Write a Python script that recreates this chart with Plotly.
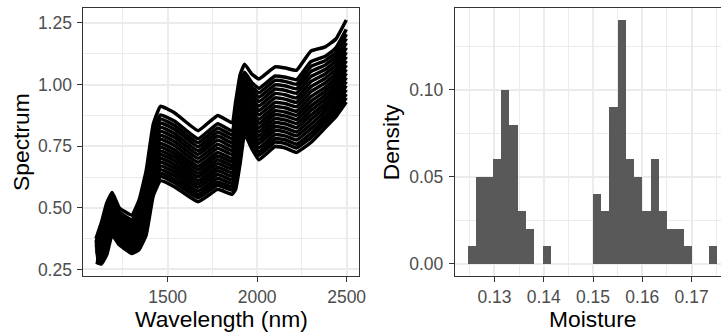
import plotly.graph_objects as go

# ---------------- data ----------------
wavelength = [1100, 1130, 1160, 1190, 1230, 1300, 1340, 1380, 1420, 1460, 1540, 1670, 1780,
              1860, 1880, 1905, 1930, 1970, 2010, 2100, 2160, 2220, 2300, 2380, 2440, 2498]

spectra = [
    [0.375, 0.440, 0.520, 0.562, 0.500, 0.470, 0.530, 0.650, 0.840, 0.912, 0.885, 0.813, 0.875, 0.845, 0.930, 1.040, 1.083, 1.043, 1.023, 1.072, 1.067, 1.058, 1.136, 1.153, 1.185, 1.262],
    [0.364, 0.421, 0.496, 0.542, 0.483, 0.452, 0.507, 0.620, 0.807, 0.877, 0.851, 0.780, 0.841, 0.812, 0.889, 0.999, 1.050, 1.008, 0.985, 1.035, 1.030, 1.020, 1.093, 1.115, 1.149, 1.224],
    [0.359, 0.411, 0.484, 0.533, 0.475, 0.444, 0.496, 0.606, 0.791, 0.861, 0.834, 0.764, 0.824, 0.796, 0.870, 0.979, 1.035, 0.991, 0.967, 1.017, 1.012, 1.001, 1.073, 1.097, 1.131, 1.205],
    [0.354, 0.402, 0.473, 0.523, 0.466, 0.435, 0.485, 0.592, 0.775, 0.844, 0.818, 0.748, 0.808, 0.780, 0.850, 0.959, 1.019, 0.975, 0.949, 0.999, 0.994, 0.983, 1.053, 1.079, 1.114, 1.187],
    [0.348, 0.393, 0.461, 0.514, 0.458, 0.427, 0.474, 0.577, 0.759, 0.827, 0.801, 0.732, 0.791, 0.764, 0.831, 0.939, 1.004, 0.958, 0.931, 0.982, 0.976, 0.965, 1.032, 1.061, 1.097, 1.169],
    [0.343, 0.384, 0.450, 0.504, 0.450, 0.418, 0.463, 0.563, 0.743, 0.811, 0.785, 0.717, 0.775, 0.748, 0.811, 0.919, 0.988, 0.941, 0.913, 0.964, 0.958, 0.946, 1.012, 1.043, 1.079, 1.150],
    [0.338, 0.374, 0.438, 0.495, 0.442, 0.410, 0.452, 0.549, 0.727, 0.794, 0.768, 0.701, 0.758, 0.732, 0.792, 0.900, 0.973, 0.925, 0.895, 0.946, 0.940, 0.928, 0.991, 1.025, 1.062, 1.132],
    [0.333, 0.365, 0.427, 0.485, 0.433, 0.401, 0.441, 0.534, 0.711, 0.778, 0.752, 0.685, 0.742, 0.716, 0.772, 0.880, 0.957, 0.908, 0.877, 0.928, 0.922, 0.910, 0.971, 1.007, 1.045, 1.114],
    [0.328, 0.356, 0.415, 0.476, 0.425, 0.393, 0.430, 0.520, 0.695, 0.761, 0.735, 0.669, 0.725, 0.700, 0.753, 0.860, 0.942, 0.892, 0.859, 0.911, 0.905, 0.892, 0.951, 0.989, 1.028, 1.096],
    [0.323, 0.348, 0.405, 0.467, 0.418, 0.385, 0.420, 0.507, 0.681, 0.746, 0.720, 0.655, 0.710, 0.686, 0.735, 0.842, 0.927, 0.876, 0.843, 0.894, 0.888, 0.875, 0.932, 0.973, 1.012, 1.079],
    [0.318, 0.339, 0.394, 0.459, 0.410, 0.377, 0.410, 0.494, 0.666, 0.731, 0.705, 0.640, 0.695, 0.671, 0.717, 0.824, 0.913, 0.861, 0.826, 0.878, 0.872, 0.858, 0.913, 0.956, 0.996, 1.062],
    [0.313, 0.331, 0.384, 0.450, 0.403, 0.369, 0.400, 0.481, 0.652, 0.716, 0.690, 0.626, 0.680, 0.657, 0.699, 0.806, 0.899, 0.846, 0.810, 0.862, 0.856, 0.842, 0.895, 0.940, 0.980, 1.046],
    [0.309, 0.322, 0.373, 0.442, 0.395, 0.362, 0.390, 0.468, 0.637, 0.701, 0.675, 0.611, 0.665, 0.642, 0.682, 0.788, 0.885, 0.831, 0.793, 0.846, 0.840, 0.825, 0.876, 0.923, 0.965, 1.029],
    [0.304, 0.314, 0.363, 0.433, 0.388, 0.354, 0.380, 0.455, 0.623, 0.686, 0.660, 0.597, 0.650, 0.628, 0.664, 0.770, 0.871, 0.816, 0.777, 0.830, 0.823, 0.808, 0.858, 0.907, 0.949, 1.012],
    [0.299, 0.306, 0.352, 0.424, 0.380, 0.346, 0.370, 0.442, 0.608, 0.670, 0.645, 0.583, 0.635, 0.613, 0.646, 0.752, 0.857, 0.801, 0.761, 0.814, 0.807, 0.792, 0.839, 0.891, 0.933, 0.996],
    [0.294, 0.297, 0.342, 0.416, 0.373, 0.338, 0.360, 0.429, 0.594, 0.655, 0.630, 0.568, 0.620, 0.599, 0.628, 0.734, 0.842, 0.785, 0.744, 0.797, 0.791, 0.775, 0.821, 0.874, 0.917, 0.979],
    [0.290, 0.289, 0.331, 0.407, 0.365, 0.331, 0.350, 0.416, 0.579, 0.640, 0.615, 0.554, 0.605, 0.584, 0.611, 0.716, 0.828, 0.770, 0.728, 0.781, 0.775, 0.758, 0.802, 0.858, 0.902, 0.962],
    [0.285, 0.281, 0.322, 0.399, 0.358, 0.324, 0.341, 0.404, 0.566, 0.627, 0.602, 0.541, 0.592, 0.571, 0.595, 0.700, 0.816, 0.757, 0.713, 0.767, 0.760, 0.743, 0.785, 0.843, 0.887, 0.947],
    [0.280, 0.272, 0.310, 0.390, 0.350, 0.315, 0.330, 0.390, 0.550, 0.610, 0.585, 0.525, 0.575, 0.555, 0.575, 0.680, 0.800, 0.740, 0.695, 0.749, 0.742, 0.725, 0.765, 0.825, 0.870, 0.929],
]

# histogram of Moisture (30 bins, counts per bin, 100 samples)
moisture_counts = [1, 5, 5, 6, 10, 8, 3, 2, 0, 1, 0, 0, 0, 0, 0,
                   4, 3, 9, 14, 6, 5, 3, 6, 3, 2, 2, 1, 0, 0, 1]
moisture_min = 0.12536
moisture_max = 0.17438

spec_xticks = [1500, 2000, 2500]
spec_yticks = [0.25, 0.50, 0.75, 1.00, 1.25]
spec_ytext = ["0.25", "0.50", "0.75", "1.00", "1.25"]
moist_xticks = [0.13, 0.14, 0.15, 0.16, 0.17]
moist_xtext = ["0.13", "0.14", "0.15", "0.16", "0.17"]
dens_yticks = [0.0, 0.05, 0.10]
dens_ytext = ["0.00", "0.05", "0.10"]

# ---------------- figure ----------------
W, H = 728, 336
FONT = "Liberation Sans, Arial, sans-serif"
GRID = "#EBEBEB"
BORDER = "#333333"
TICKC = "#4D4D4D"

fig = go.Figure()
for s in spectra:
    fig.add_trace(go.Scatter(
        x=wavelength, y=s, mode="lines",
        line=dict(color="black", width=3.5, shape="spline", smoothing=0.35),
        xaxis="x", yaxis="y", showlegend=False, hoverinfo="skip"))

nbins = len(moisture_counts)
bw = (moisture_max - moisture_min) / (nbins - 1)
centers = [moisture_min + i * bw for i in range(nbins)]
total = sum(moisture_counts)
density = [c / total for c in moisture_counts]
fig.add_trace(go.Bar(
    x=centers, y=density, width=bw,
    marker=dict(color="#595959", line=dict(width=0)),
    xaxis="x2", yaxis="y2", showlegend=False))


def px_x(p):
    return p / W


def px_y(p):
    return 1 - p / H


ydom = [px_y(279.3), px_y(8.3)]
common = dict(showline=True, linecolor=BORDER, linewidth=1.1,
              ticks="outside", ticklen=5, tickwidth=1.1, tickcolor=BORDER,
              tickfont=dict(family=FONT, size=17.5, color=TICKC),
              showgrid=True, gridcolor=GRID, gridwidth=2, zeroline=False)
minor_grid = dict(showgrid=True, gridcolor=GRID, gridwidth=1, ticks="")

fig.update_layout(
    width=W, height=H,
    margin=dict(l=0, r=0, t=0, b=0),
    paper_bgcolor="white", plot_bgcolor="white",
    bargap=0,
    xaxis=dict(domain=[px_x(84.3), px_x(362.3)], range=[1030, 2568],
               tickvals=spec_xticks, mirror=True, anchor="y",
               minor=dict(tickvals=[1250, 1750, 2250], **minor_grid),
               **common),
    yaxis=dict(domain=ydom, range=[0.2235, 1.310], tickvals=spec_yticks,
               ticktext=spec_ytext, mirror=True, anchor="x",
               ticklabelstandoff=2,
               minor=dict(tickvals=[0.375, 0.625, 0.875, 1.125], **minor_grid),
               **common),
    xaxis2=dict(domain=[px_x(459.3), 1.0], range=[0.12196, 0.17597],
                tickvals=moist_xticks, ticktext=moist_xtext, mirror=True,
                anchor="y2",
                minor=dict(tickvals=[0.125, 0.135, 0.145, 0.155, 0.165, 0.175],
                           **minor_grid),
                **common),
    yaxis2=dict(domain=ydom, range=[-0.007, 0.147], tickvals=dens_yticks,
                ticktext=dens_ytext, anchor="x2", ticklabelstandoff=2,
                minor=dict(tickvals=[0.025, 0.075, 0.125], **minor_grid),
                **common),
)

title_font = dict(family=FONT, size=22.8, color="black")
fig.add_annotation(text="Wavelength (nm)", x=px_x(223.3), y=px_y(323),
                   xref="paper", yref="paper", showarrow=False,
                   xanchor="center", yanchor="middle", font=title_font)
fig.add_annotation(text="Spectrum", x=px_x(21), y=px_y(143.8),
                   xref="paper", yref="paper", showarrow=False, textangle=-90,
                   xanchor="center", yanchor="middle", font=title_font)
fig.add_annotation(text="Moisture", x=px_x(598), y=px_y(323),
                   xref="paper", yref="paper", showarrow=False,
                   xanchor="center", yanchor="middle", font=title_font)
fig.add_annotation(text="Density", x=px_x(395), y=px_y(143.8),
                   xref="paper", yref="paper", showarrow=False, textangle=-90,
                   xanchor="center", yanchor="middle", font=title_font)

fig.write_html("out.html")
